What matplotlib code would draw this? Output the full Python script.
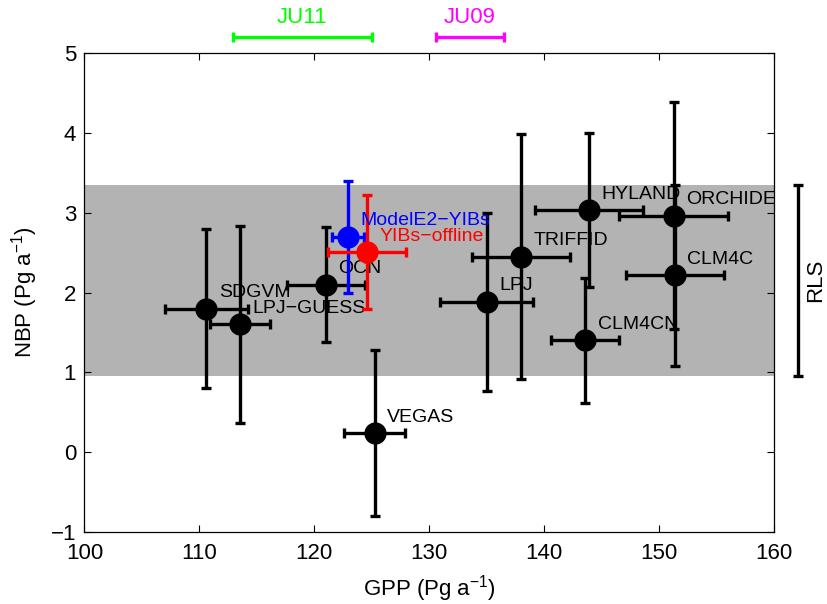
import matplotlib
matplotlib.use('Agg')
import matplotlib.pyplot as plt

plt.rcParams['font.family'] = ['Liberation Sans', 'DejaVu Sans']
plt.rcParams['mathtext.default'] = 'regular'

# multi-model ensemble (GPP vs NBP)
names = ['SDGVM', 'LPJ\u2212GUESS', 'OCN', 'VEGAS', 'LPJ', 'TRIFFID',
         'HYLAND', 'CLM4CN', 'ORCHIDE', 'CLM4C']
gpp = [110.6, 113.5, 121.0, 125.25, 135.0, 137.95, 143.9, 143.55, 151.25, 151.35]
gpp_err = [3.6, 2.6, 3.4, 2.65, 4.06, 4.25, 4.7, 2.95, 4.75, 4.25]
nbp = [1.8, 1.6, 2.1, 0.24, 1.885, 2.45, 3.03, 1.4, 2.96, 2.215]
nbp_err = [1.0, 1.23, 0.72, 1.04, 1.115, 1.53, 0.96, 0.78, 1.42, 1.135]

# YIBs runs
yibs_names = ['ModelE2\u2212YIBs', 'YIBs\u2212offline']
yibs_colors = ['blue', 'red']
yibs_gpp = [122.9, 124.6]
yibs_gpp_err = [1.4, 3.4]
yibs_nbp = [2.7, 2.505]
yibs_nbp_err = [0.7, 0.715]

# observational ranges
rls = [0.95, 3.35]
ju11 = [112.9, 125.0]
ju09 = [130.55, 136.5]

fig = plt.figure(figsize=(8.28, 6.04), dpi=100)
ax = fig.add_axes([0.102, 0.1187, 0.833, 0.794])

ax.axhspan(rls[0], rls[1], color='0.7', lw=0, zorder=0)

for i in range(len(names)):
    ax.errorbar(gpp[i], nbp[i], xerr=gpp_err[i], yerr=nbp_err[i], fmt='o',
                color='k', ms=15, elinewidth=2.4, capsize=3.6, capthick=2.4,
                zorder=2)
    ax.text(gpp[i] + 1.1, nbp[i] + 0.2, names[i], fontsize=14,
            ha='left', va='center', zorder=3)

for i in range(len(yibs_names)):
    ax.errorbar(yibs_gpp[i], yibs_nbp[i], xerr=yibs_gpp_err[i],
                yerr=yibs_nbp_err[i], fmt='o', color=yibs_colors[i], ms=15,
                elinewidth=2.4, capsize=3.6, capthick=2.4, zorder=4)
    ax.text(yibs_gpp[i] + 1.1, yibs_nbp[i] + 0.2, yibs_names[i], fontsize=14,
            color=yibs_colors[i], ha='left', va='center', zorder=5)

# RLS bar on the right
ax.errorbar(162.1, (rls[0] + rls[1]) / 2, yerr=(rls[1] - rls[0]) / 2,
            fmt='none', ecolor='k', elinewidth=2.4, capsize=3.6, capthick=2.4,
            clip_on=False)
ax.text(163.6, (rls[0] + rls[1]) / 2, 'RLS', rotation=90, fontsize=16,
        ha='center', va='center')

# JU11 / JU09 bars on the top
for rng, lab, col in [(ju11, 'JU11', (0, 1, 0)), (ju09, 'JU09', (1, 0, 1))]:
    ax.errorbar((rng[0] + rng[1]) / 2, 5.195, xerr=(rng[1] - rng[0]) / 2,
                fmt='none', ecolor=col, elinewidth=2.4, capsize=3.6,
                capthick=2.4, clip_on=False)
    ax.text((rng[0] + rng[1]) / 2, 5.44, lab, color=col, fontsize=16,
            ha='center', va='center')

ax.set_xlim(100, 160)
ax.set_ylim(-1, 5)
ax.set_xticks(range(100, 161, 10))
ax.set_yticks(range(-1, 6))
ax.tick_params(direction='in', top=True, right=True, length=5, width=0.8,
               labelsize=16)
ax.tick_params(axis='x', pad=8)
ax.tick_params(axis='y', pad=6)
for s in ax.spines.values():
    s.set_linewidth(0.9)

ax.set_xlabel('GPP (Pg a$^{-1}$)', fontsize=16, labelpad=6)
ax.set_ylabel('NBP (Pg a$^{-1}$)', fontsize=16, labelpad=8)

fig.savefig('out.png', dpi=100)
